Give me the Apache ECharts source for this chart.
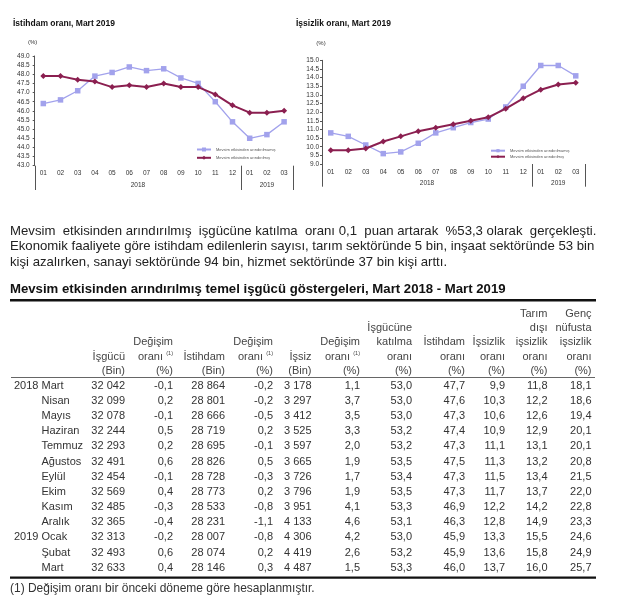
<!DOCTYPE html>
<html><head><meta charset="utf-8">
<script src="https://cdn.jsdelivr.net/npm/echarts@6/dist/echarts.min.js"></script>
<style>html,body{margin:0;padding:0;background:#fff}#c{width:640px;height:605px}</style>
</head><body><div id="c"></div>
<script>
// ---------- chart data ----------
const months = ['01','02','03','04','05','06','07','08','09','10','11','12','01','02','03'];
const yearGroups = ['2018','2019'];
const yearSpans = [12, 3];
const empNSA = [46.4,46.6,47.1,47.9,48.1,48.4,48.2,48.3,47.8,47.5,46.5,45.4,44.5,44.7,45.4];
const empSA  = [47.9,47.9,47.7,47.6,47.3,47.4,47.3,47.5,47.3,47.3,46.9,46.3,45.9,45.9,46.0];
const unNSA  = [10.8,10.6,10.1,9.6,9.7,10.2,10.8,11.1,11.4,11.6,12.3,13.5,14.7,14.7,14.1];
const unSA   = [9.8,9.8,9.9,10.3,10.6,10.9,11.1,11.3,11.5,11.7,12.2,12.8,13.3,13.6,13.7];
const chartTitles = ['İstihdam oranı, Mart 2019', 'İşsizlik oranı, Mart 2019'];
const seriesNames = ['Mevsim etkisinden arındırılmamış', 'Mevsim etkisinden arındırılmış'];

// ---------- text ----------
const paraLines = [
  'Mevsim etkisinden arındırılmış işgücüne katılma oranı 0,1 puan artarak %53,3 olarak gerçekleşti.',
  'Ekonomik faaliyete göre istihdam edilenlerin sayısı, tarım sektöründe 5 bin, inşaat sektöründe 53 bin',
  'kişi azalırken, sanayi sektöründe 94 bin, hizmet sektöründe 37 bin kişi arttı.'
];
const tableTitle = 'Mevsim etkisinden arındırılmış temel işgücü göstergeleri, Mart 2018 - Mart 2019';
const footnote = '(1) Değişim oranı bir önceki döneme göre hesaplanmıştır.';

// ---------- table data ----------
const tableYears  = ['2018','','','','','','','','','','2019','',''];
const tableMonths = ['Mart','Nisan','Mayıs','Haziran','Temmuz','Ağustos','Eylül','Ekim','Kasım','Aralık','Ocak','Şubat','Mart'];
const isgucu   = [32042,32099,32078,32244,32293,32491,32454,32569,32485,32365,32313,32493,32633];
const degIsgucu= [-0.1,0.2,-0.1,0.5,0.2,0.6,-0.1,0.4,-0.3,-0.4,-0.2,0.6,0.4];
const istihdam = [28864,28801,28666,28719,28695,28826,28728,28773,28533,28231,28007,28074,28146];
const degIstihdam = [-0.2,-0.2,-0.5,0.2,-0.1,0.5,-0.3,0.2,-0.8,-1.1,-0.8,0.2,0.3];
const issiz    = [3178,3297,3412,3525,3597,3665,3726,3796,3951,4133,4306,4419,4487];
const degIssiz = [1.1,3.7,3.5,3.3,2.0,1.9,1.7,1.9,4.1,4.6,4.2,2.6,1.5];
const katilmaOrani  = [53.0,53.0,53.0,53.2,53.2,53.5,53.4,53.5,53.3,53.1,53.0,53.2,53.3];
const istihdamOrani = [47.7,47.6,47.3,47.4,47.3,47.5,47.3,47.3,46.9,46.3,45.9,45.9,46.0];
const issizlikOrani = [9.9,10.3,10.6,10.9,11.1,11.3,11.5,11.7,12.2,12.8,13.3,13.6,13.7];
const tarimDisi     = [11.8,12.2,12.6,12.9,13.1,13.2,13.4,13.7,14.2,14.9,15.5,15.8,16.0];
const gencIssizlik  = [18.1,18.6,19.4,20.1,20.1,20.8,21.5,22.0,22.8,23.3,24.6,24.9,25.7];
const colHeaders = [
  ['İşgücü','(Bin)'],
  ['Değişim','oranı|(1)','(%)'],
  ['İstihdam','(Bin)'],
  ['Değişim','oranı|(1)','(%)'],
  ['İşsiz','(Bin)'],
  ['Değişim','oranı|(1)','(%)'],
  ['İşgücüne','katılma','oranı','(%)'],
  ['İstihdam','oranı','(%)'],
  ['İşsizlik','oranı','(%)'],
  ['Tarım','dışı','işsizlik','oranı','(%)'],
  ['Genç','nüfusta','işsizlik','oranı','(%)']
];

const FONT = '"Liberation Sans", Arial, sans-serif';
const purple = '#a2a2ec', maroon = '#8b1f50';
const fmtInt = n => String(n).replace(/\B(?=(\d{3})+(?!\d))/g, ' ');
const fmtDec = v => v.toFixed(1).replace('.', ',');
const tableCols = [
  {data: isgucu, f: fmtInt}, {data: degIsgucu, f: fmtDec},
  {data: istihdam, f: fmtInt}, {data: degIstihdam, f: fmtDec},
  {data: issiz, f: fmtInt}, {data: degIssiz, f: fmtDec},
  {data: katilmaOrani, f: fmtDec}, {data: istihdamOrani, f: fmtDec},
  {data: issizlikOrani, f: fmtDec}, {data: tarimDisi, f: fmtDec},
  {data: gencIssizlik, f: fmtDec}
];

const chart = echarts.init(document.getElementById('c'), null, {renderer: 'canvas', width: 640, height: 605});

function yAxisCfg(gi, min, max, padR, gap, lblMargin) {
  return {
    type: 'value', gridIndex: gi, min, max, interval: 0.5,
    name: '(%)', nameLocation: 'end', nameGap: gap,
    nameTextStyle: {fontSize: 6, color: '#333', fontFamily: FONT, align: 'center', padding: [0, padR, 0, 0]},
    axisLine: {show: true, lineStyle: {color: '#555', width: 1}},
    axisTick: {show: true, length: 2, lineStyle: {color: '#555'}},
    splitLine: {show: false},
    axisLabel: {fontSize: 6.5, color: '#333', fontFamily: FONT, margin: lblMargin, formatter: v => v.toFixed(1)}
  };
}
function xAxisCfg(gi, margin) {
  return {
    type: 'category', gridIndex: gi, data: months, boundaryGap: true,
    axisLine: {show: false}, axisTick: {show: false},
    axisLabel: {fontSize: 6.5, color: '#333', fontFamily: FONT, margin, interval: 0}
  };
}
function lineSeries(name, data, gi, color, symbol, size, width) {
  return {type: 'line', name, data, xAxisIndex: gi, yAxisIndex: gi, symbol, symbolSize: size,
    lineStyle: {color, width}, itemStyle: {color}, emphasis: {disabled: true}, z: symbol === 'diamond' ? 3 : 2};
}
function legendCfg(left, top, itemH, gap) {
  return {data: seriesNames, orient: 'vertical', left, top, itemWidth: 14, itemHeight: itemH, itemGap: gap,
    padding: 0, selectedMode: false, textStyle: {fontSize: 4, color: '#555', fontFamily: FONT}};
}

chart.setOption({
  animation: false,
  title: [
    {text: chartTitles[0], left: 13, top: 19, padding: 0, textStyle: {fontSize: 8.5, fontWeight: 'bold', color: '#111', fontFamily: FONT}},
    {text: chartTitles[1], left: 296, top: 19, padding: 0, textStyle: {fontSize: 8.5, fontWeight: 'bold', color: '#111', fontFamily: FONT}}
  ],
  grid: [
    {left: 34.7, top: 56, width: 258, height: 109.7, containLabel: false, outerBoundsMode: 'none'},
    {left: 322, top: 60.3, width: 262.5, height: 103.7, containLabel: false, outerBoundsMode: 'none'}
  ],
  xAxis: [xAxisCfg(0, 4), xAxisCfg(1, 5)],
  yAxis: [yAxisCfg(0, 43, 49, 4, 11, 5), yAxisCfg(1, 9, 15, 2, 14, 3)],
  legend: [legendCfg(196, 147.5, 5, 4.3), legendCfg(490, 148.7, 4, 2)],
  series: [
    lineSeries(seriesNames[0], empNSA, 0, purple, 'rect', 5.5, 1.3),
    lineSeries(seriesNames[1], empSA, 0, maroon, 'diamond', 6, 2),
    lineSeries(seriesNames[0], unNSA, 1, purple, 'rect', 5.5, 1.3),
    lineSeries(seriesNames[1], unSA, 1, maroon, 'diamond', 6, 2)
  ]
});

// ---------- graphic layer ----------
const g = [];
function txt(text, x, y, size, opts) {
  opts = opts || {};
  g.push({type: 'text', x, y, silent: true, style: {text, fontSize: size, fontFamily: FONT,
    fontWeight: opts.bold ? 'bold' : 'normal', fill: opts.color || '#333',
    align: opts.align || 'left', verticalAlign: 'middle'}});
}
function line(x1, y1, x2, y2, w, c) {
  g.push({type: 'line', silent: true, shape: {x1, y1, x2, y2}, style: {stroke: c || '#333', lineWidth: w}});
}

// year labels and separators under the two charts
const chartBottoms = [{sepBottom: 190, yearY: 185.7, yMin: 43}, {sepBottom: 186.7, yearY: 183, yMin: 9}];
[0, 1].forEach(gi => {
  const p0 = chart.convertToPixel({gridIndex: gi}, [0, chartBottoms[gi].yMin]);
  const p1 = chart.convertToPixel({gridIndex: gi}, [1, chartBottoms[gi].yMin]);
  const bw = p1[0] - p0[0];
  const bottomY = p0[1];
  let start = 0;
  const bounds = [p0[0] - bw / 2];
  yearGroups.forEach((yr, k) => {
    const a = chart.convertToPixel({gridIndex: gi}, [start, chartBottoms[gi].yMin])[0] - bw / 2;
    const b = chart.convertToPixel({gridIndex: gi}, [start + yearSpans[k] - 1, chartBottoms[gi].yMin])[0] + bw / 2;
    txt(yr, (a + b) / 2, chartBottoms[gi].yearY, 6.5, {align: 'center'});
    bounds.push(b);
    start += yearSpans[k];
  });
  bounds.forEach(x => line(Math.round(x) + 0.5, bottomY, Math.round(x) + 0.5, chartBottoms[gi].sepBottom, 1, '#555'));
});

// text measuring helpers (fit text widths to the reference layout)
const mctx = document.createElement('canvas').getContext('2d');
function measure(s, size, bold) {
  mctx.font = (bold ? 'bold ' : '') + size + 'px "Liberation Sans"';
  return mctx.measureText(s).width;
}
function fitSize(s, target, bold) { return 10 * target / measure(s, 10, bold); }
function justify(s, target, size) {
  const words = s.split(' ');
  const w = measure(s, size), sw = measure(' ', size);
  let n = Math.round((target - w) / sw);
  if (n <= 0) return s;
  const gaps = words.length - 1;
  let out = words[0];
  for (let i = 1; i < words.length; i++) {
    const extra = Math.round(n * i / gaps) - Math.round(n * (i - 1) / gaps);
    out += ' '.repeat(1 + extra) + words[i];
  }
  return out;
}
const PARA_SIZE = fitSize(paraLines[1], 585);
const paraY = [231, 246.5, 262];
paraLines.forEach((s, i) => {
  txt(i === 0 ? justify(s, 587, PARA_SIZE) : s, 10, paraY[i], PARA_SIZE, {color: '#222'});
});
txt(tableTitle, 10, 289.5, fitSize(tableTitle, 496, true), {bold: true, color: '#111'});

// table
const T_SIZE = 11;
const colRight = [125, 173, 225, 273, 311.5, 360, 412, 465, 505, 547.5, 591.5];
const headBottomY = 371, headStep = 14.3;
colHeaders.forEach((lines, c) => {
  lines.forEach((l, k) => {
    const y = headBottomY - (lines.length - 1 - k) * headStep;
    if (l.indexOf('|') >= 0) {
      const parts = l.split('|');
      txt(parts[0], colRight[c] - 10, y, T_SIZE, {align: 'right', color: '#444'});
      txt(parts[1], colRight[c], y - 3.5, 5.5, {align: 'right', color: '#444'});
    } else {
      txt(l, colRight[c], y, T_SIZE, {align: 'right', color: '#444'});
    }
  });
});
const rowY0 = 385.7, rowStep = 15.17;
tableMonths.forEach((m, r) => {
  const y = rowY0 + r * rowStep;
  if (tableYears[r]) txt(tableYears[r], 14, y, T_SIZE, {color: '#333'});
  txt(m, 41.5, y, T_SIZE, {color: '#333'});
  tableCols.forEach((col, c) => txt(col.f(col.data[r]), colRight[c], y, T_SIZE, {align: 'right', color: '#333'}));
});
g.push({type: 'rect', silent: true, shape: {x: 10, y: 299, width: 586, height: 2.5}, style: {fill: '#111'}});
line(11, 377.5, 595, 377.5, 1, '#666');
g.push({type: 'rect', silent: true, shape: {x: 10, y: 576.5, width: 586, height: 2.2}, style: {fill: '#111'}});
txt(footnote, 10, 589, fitSize(footnote, 305), {color: '#333'});

chart.setOption({graphic: {elements: g}});
</script>
</body></html>
